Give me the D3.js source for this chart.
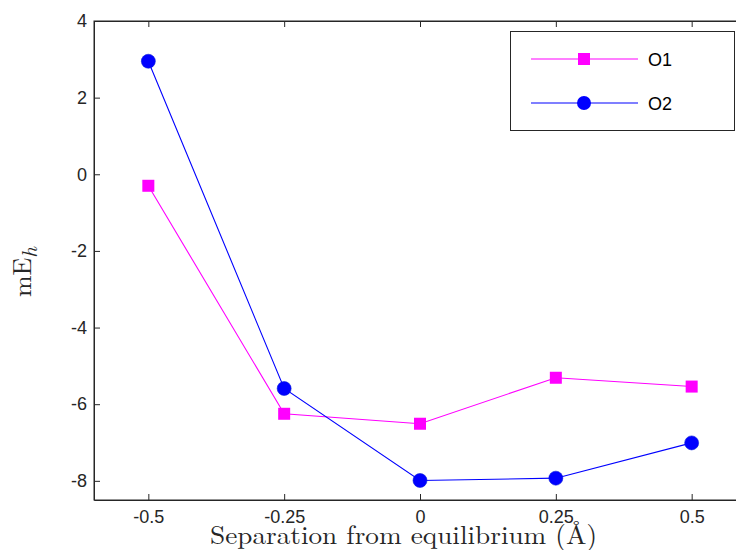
<!DOCTYPE html>
<html>
<head>
<meta charset="utf-8">
<script src="https://cdn.jsdelivr.net/npm/d3@7"></script>
<style>
  body { margin: 0; background: #fff; }
  svg { display: block; }
</style>
</head>
<body>
<svg id="chart" width="736" height="550"></svg>
<script>
// Separation from equilibrium (Å)
const separations = [-0.5, -0.25, 0, 0.25, 0.5];
const xTickLabels = ["-0.5", "-0.25", "0", "0.25", "0.5"];
// Energies in mE_h
const o1Values = [-0.30, -6.25, -6.51, -5.31, -5.54];
const o2Values = [2.95, -5.59, -7.99, -7.93, -7.01];
const yTickValues = [-8, -6, -4, -2, 0, 2, 4];
const yTickLabels = ["-8", "-6", "-4", "-2", "0", "2", "4"];
const seriesNames = ["O1", "O2"];

const svg = d3.select("#chart");
const margin = { left: 94, top: 21, plotRight: 746, bottom: 500 };

const x = d3.scaleLinear().domain([-0.6, 0.6]).range([margin.left, margin.plotRight]);
const y = d3.scaleLinear().domain([-8.5, 4]).range([margin.bottom, margin.top]);

const axisColor = "#262626";
const tickFont = "Liberation Sans, Arial, Helvetica, sans-serif";
const tickSize = 18;

// Plot frame
svg.append("rect")
  .attr("x", margin.left).attr("y", margin.top)
  .attr("width", margin.plotRight - margin.left)
  .attr("height", margin.bottom - margin.top)
  .attr("fill", "none").attr("stroke", axisColor).attr("stroke-width", 1);

// Bottom axis (ticks pointing inward)
const xAxis = d3.axisBottom(x).tickValues(separations)
  .tickFormat((d, i) => xTickLabels[i]).tickSizeInner(-6).tickSizeOuter(0).tickPadding(10);
const gx = svg.append("g").attr("transform", `translate(0,${margin.bottom})`).call(xAxis);
gx.select(".domain").attr("stroke", axisColor);
gx.selectAll(".tick line").attr("stroke", axisColor);
gx.selectAll(".tick text").attr("fill", axisColor).attr("font-size", tickSize).attr("font-family", tickFont);

// Top axis ticks
const gxTop = svg.append("g").attr("transform", `translate(0,${margin.top})`)
  .call(d3.axisTop(x).tickValues(separations).tickSizeInner(-6).tickSizeOuter(0).tickFormat(""));
gxTop.select(".domain").attr("stroke", axisColor);
gxTop.selectAll(".tick line").attr("stroke", axisColor);

// Left axis
const yAxis = d3.axisLeft(y).tickValues(yTickValues).tickFormat((d, i) => yTickLabels[i])
  .tickSizeInner(-6).tickSizeOuter(0).tickPadding(7);
const gy = svg.append("g").attr("transform", `translate(${margin.left},0)`).call(yAxis);
gy.select(".domain").attr("stroke", axisColor);
gy.selectAll(".tick line").attr("stroke", axisColor);
gy.selectAll(".tick text").attr("fill", axisColor).attr("font-size", tickSize).attr("font-family", tickFont);

// Series lines
const line = d3.line().x((d, i) => x(separations[i])).y(d => y(d));
svg.append("path").datum(o1Values).attr("d", line)
  .attr("fill", "none").attr("stroke", "#ff00ff").attr("stroke-width", 1.1);
svg.append("path").datum(o2Values).attr("d", line)
  .attr("fill", "none").attr("stroke", "#0000ff").attr("stroke-width", 1.1);

// Markers
const sq = 12;
svg.selectAll(".m1").data(o1Values).enter().append("rect")
  .attr("x", (d, i) => x(separations[i]) - sq / 2)
  .attr("y", d => y(d) - sq / 2)
  .attr("width", sq).attr("height", sq).attr("fill", "#ff00ff");
svg.selectAll(".m2").data(o2Values).enter().append("circle")
  .attr("cx", (d, i) => x(separations[i])).attr("cy", d => y(d))
  .attr("r", 7).attr("fill", "#0000ff").attr("stroke", "#0a1fd8").attr("stroke-width", 0.6);

// Legend
const legend = svg.append("g");
legend.append("rect").attr("x", 510.5).attr("y", 31.5).attr("width", 224).attr("height", 99)
  .attr("fill", "#fff").attr("stroke", axisColor).attr("stroke-width", 1);
const legendRows = [
  { name: seriesNames[0], color: "#ff00ff", marker: "square", yPos: 59 },
  { name: seriesNames[1], color: "#0000ff", marker: "circle", yPos: 103 }
];
legendRows.forEach(r => {
  legend.append("line").attr("x1", 531).attr("x2", 638).attr("y1", r.yPos).attr("y2", r.yPos)
    .attr("stroke", r.color).attr("stroke-width", 1.1);
  if (r.marker === "square") {
    legend.append("rect").attr("x", 584 - sq / 2).attr("y", r.yPos - sq / 2)
      .attr("width", sq).attr("height", sq).attr("fill", r.color);
  } else {
    legend.append("circle").attr("cx", 584).attr("cy", r.yPos).attr("r", 7).attr("fill", r.color);
  }
  legend.append("text").attr("x", 648).attr("y", r.yPos + 6.5)
    .attr("font-family", tickFont).attr("font-size", 18).attr("fill", "#000").text(r.name);
});

// Axis titles
const serif = "Latin Modern Roman, CMU Serif, Liberation Serif, Times New Roman, serif";
svg.append("text").attr("x", 210).attr("y", 544)
  .attr("textLength", 387).attr("lengthAdjust", "spacingAndGlyphs")
  .attr("font-family", serif).attr("font-size", 26).attr("fill", axisColor)
  .text("Separation from equilibrium (Å)");

const yl = svg.append("text").attr("transform", "translate(31,272) rotate(-90)")
  .attr("text-anchor", "middle").attr("font-family", serif).attr("font-size", 26).attr("fill", axisColor);
yl.append("tspan").text("mE");
yl.append("tspan").attr("font-style", "italic").attr("font-size", 21).attr("dy", 6).text("h");
</script>
</body>
</html>
